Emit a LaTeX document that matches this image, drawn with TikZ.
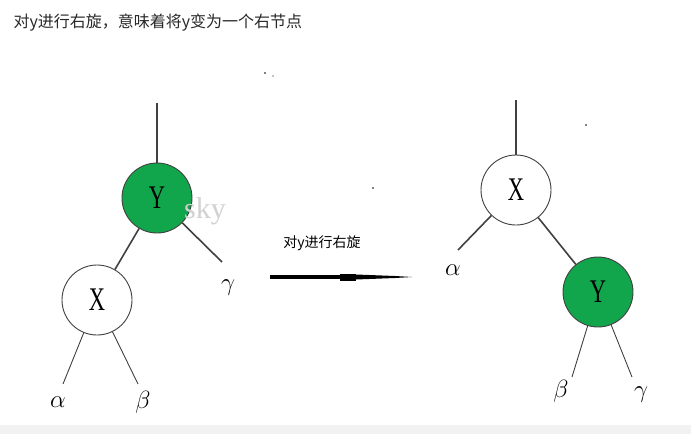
\documentclass[tikz,border=0pt]{standalone}
\usepackage{fontspec}
\newfontfamily\cjk{Noto Sans CJK SC}
\newfontfamily\serif{Liberation Serif}
\newcommand\nodelbl[1]{\scalebox{0.75}[1.1]{\serif\fontsize{30}{30}\selectfont #1}}
\definecolor{rbgreen}{RGB}{18,166,76}
\definecolor{titlegray}{RGB}{40,40,40}
\begin{document}
\begin{tikzpicture}[x=1pt,y=-1pt,
  nd/.style={circle,draw=black!75,line width=0.9pt,minimum size=70pt,inner sep=0pt},
  gn/.style={nd,fill=rbgreen},
  wn/.style={nd,fill=white},
  ln/.style={black!75,line width=1.6pt},
  tl/.style={black!75,line width=0.9pt},
  gl/.style={font=\fontsize{28}{28}\selectfont}]
\useasboundingbox (0,0) rectangle (691,434);
\fill[black!5] (0,425) rectangle (691,434);
\node[anchor=west,font=\cjk\fontsize{16}{16}\selectfont,text=titlegray] (title) at (10,23) {对y进行右旋，意味着将y变为一个右节点};
% left tree
\node[gn] (ly) at (157,198) {\nodelbl{Y}};
\node[wn] (lx) at (97,300) {\nodelbl{X}};
\coordinate (lytop) at (157,103);
\coordinate (lg) at (222,262);
\coordinate (la) at (63,384);
\coordinate (lb) at (138,384);
\draw[ln] (lytop) -- (ly);
\draw[ln] (ly) -- (lx);
\draw[ln] (ly) -- (lg);
\draw[tl] (lx) -- (la);
\draw[tl] (lx) -- (lb);
\node[gl] (lgt) at (228,288) {$\gamma$};
\node[gl] (lat) at (58,402) {$\alpha$};
\node[gl] (lbt) at (143,402) {$\beta$};
\node[text=black!18,font=\serif\fontsize{30}{30}\selectfont] (wm) at (205,211) {sky};
% arrow
\node[font=\cjk\fontsize{14}{14}\selectfont] (lab) at (322,243) {对y进行右旋};
\coordinate (a1) at (270,277);
\coordinate (a2) at (340,277);
\coordinate (a3) at (356,277);
\draw[line width=4.5pt] (a1) -- (a2);
\draw[line width=7pt] (a2) -- (a3);
\fill (356,274.5) -- (395,276) -- (412,277) -- (395,278) -- (356,279.5) -- cycle;
% right tree
\node[wn] (rx) at (516,190) {\nodelbl{X}};
\node[gn] (ry) at (598,292) {\nodelbl{Y}};
\coordinate (rxtop) at (516,100);
\coordinate (ra) at (458,250);
\coordinate (rb) at (572,377);
\coordinate (rg) at (632,377);
\draw[ln] (rxtop) -- (rx);
\draw[ln] (rx) -- (ry);
\draw[ln] (rx) -- (ra);
\draw[tl] (ry) -- (rb);
\draw[tl] (ry) -- (rg);
\node[gl] (rat) at (453,270) {$\alpha$};
\node[gl] (rbt) at (561,391) {$\beta$};
\node[gl] (rgt) at (641,395) {$\gamma$};
% specks
\fill (265,73) circle (0.8) (373,188) circle (0.9) (586,125) circle (0.9) (273,76) circle (0.6);
\end{tikzpicture}
\end{document}
